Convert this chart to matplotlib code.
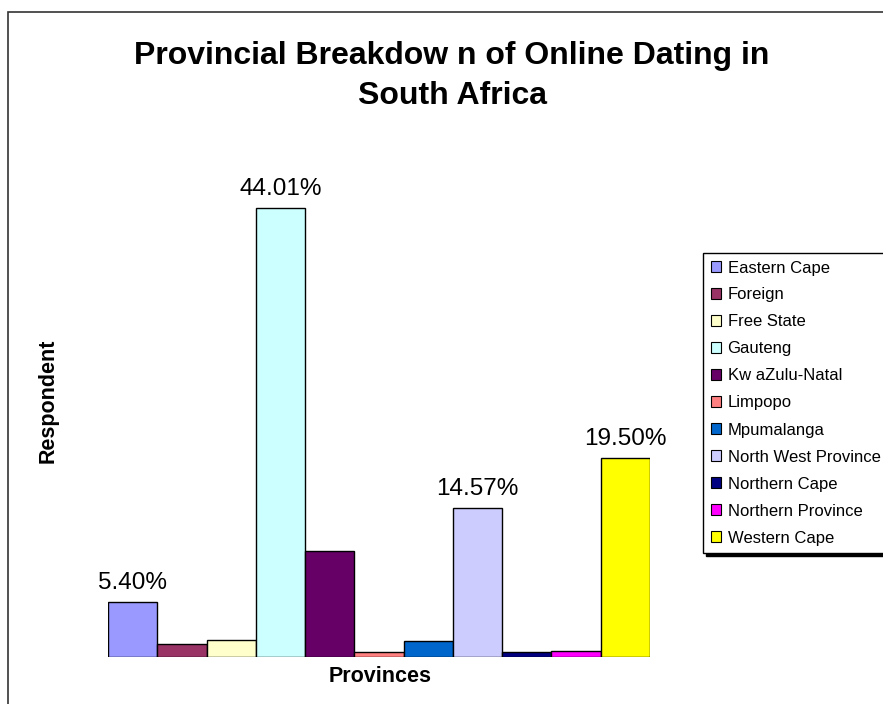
import matplotlib
matplotlib.use('Agg')
import matplotlib.pyplot as plt
from matplotlib.patches import Rectangle

plt.rcParams['font.family'] = ['Liberation Sans', 'DejaVu Sans']

# Data (percent of respondents)
provinces = ['Eastern Cape', 'Foreign', 'Free State', 'Gauteng', 'Kw aZulu-Natal', 'Limpopo',
             'Mpumalanga', 'North West Province', 'Northern Cape', 'Northern Province', 'Western Cape']
shares = [5.40, 1.25, 1.71, 44.01, 10.43, 0.53, 1.54, 14.57, 0.46, 0.59, 19.50]
shown_labels = ['5.40%', '', '', '44.01%', '', '', '', '14.57%', '', '', '19.50%']
colors = ['#9999FF', '#993366', '#FFFFCC', '#CCFFFF', '#660066', '#FF8080',
          '#0066CC', '#CCCCFF', '#000080', '#FF00FF', '#FFFF00']

W, H = 883, 704
fig = plt.figure(figsize=(W / 100, H / 100), dpi=100)

# outer chart frame (cut off at right and bottom like the original)
fig.patches.append(Rectangle((8 / W, -0.05), 1.1, 1 - 12 / H + 0.05, transform=fig.transFigure,
                             fill=False, edgecolor='#333333', linewidth=1.2))

ax = fig.add_axes([108 / W, 47 / H, 542 / W, 510 / H])
x = list(range(len(provinces)))
bars = ax.bar(x, shares, width=1.0, color=colors, edgecolor='black', linewidth=1.0, label=provinces)
ax.set_xlim(-0.5, len(provinces) - 0.5)
ax.set_ylim(0, 50)
for s in ax.spines.values():
    s.set_visible(False)
ax.set_xticks([])
ax.set_yticks([])

for rect, txt in zip(bars, shown_labels):
    if txt:
        ax.annotate(txt, (rect.get_x() + rect.get_width() / 2, rect.get_height()),
                    xytext=(0, 8), textcoords='offset pixels', ha='center', va='bottom', fontsize=17.5)

ax.set_ylabel('Respondent', fontsize=15.5, fontweight='bold', va='center')
ax.yaxis.set_label_coords(-(108 - 48) / 542, (657 - 401) / 510)
ax.set_xlabel('Provinces', fontsize=15.5, fontweight='bold', va='center')
ax.xaxis.set_label_coords((380 - 108) / 542, -(676 - 657) / 510)

fig.text(452 / W, 1 - 76 / H, 'Provincial Breakdow n of Online Dating in\nSouth Africa',
         ha='center', va='center', fontsize=23, fontweight='bold', linespacing=1.4)

handles = [Rectangle((0, 0), 1, 1, facecolor=c, edgecolor='black', linewidth=0.8) for c in colors]
leg = fig.legend(handles, provinces, loc='upper left', bbox_to_anchor=(703 / W, 1 - 253 / H),
                 fontsize=12, frameon=True, fancybox=False, shadow={'color': 'black', 'alpha': 1},
                 handlelength=0.62, handleheight=0.62, handletextpad=0.4, labelspacing=0.72,
                 borderpad=0.45, borderaxespad=0)
leg.get_frame().set_edgecolor('black')
leg.get_frame().set_linewidth(1.0)

fig.savefig('out.png', dpi=100)
